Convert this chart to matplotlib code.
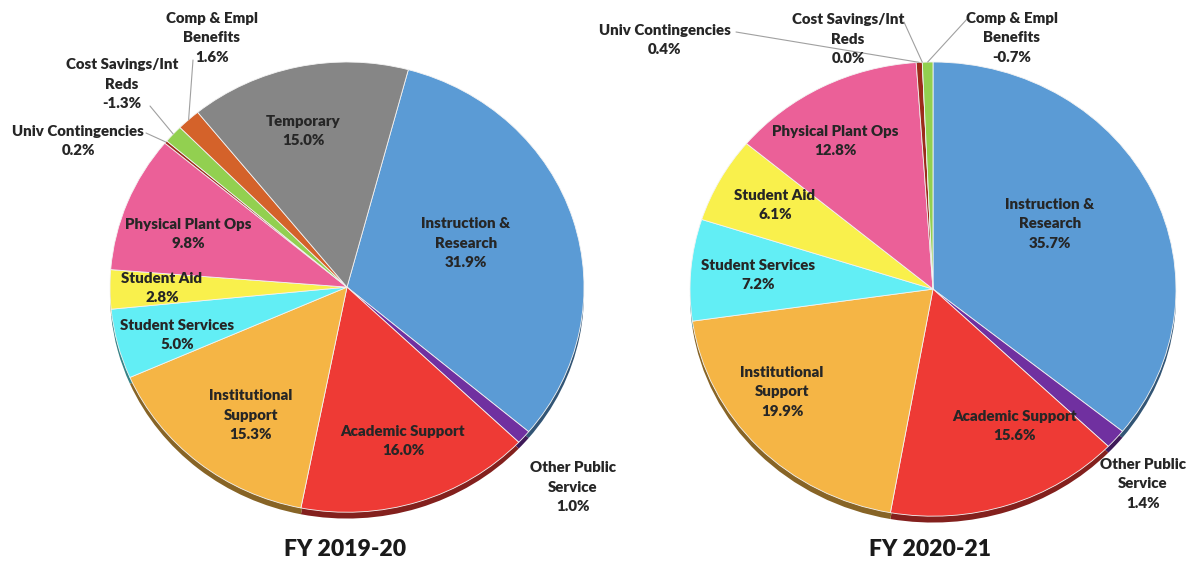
import numpy as np
import matplotlib.pyplot as plt
import matplotlib.colors as mcolors

plt.rcParams['font.family'] = ['Lato', 'DejaVu Sans']

W, H = 1198, 565

labels_19 = ["Instruction &\nResearch", "Other Public\nService", "Academic Support",
             "Institutional\nSupport", "Student Services", "Student Aid",
             "Physical Plant Ops", "Univ Contingencies", "Cost Savings/Int\nReds",
             "Comp & Empl\nBenefits", "Temporary"]
values_19 = [31.9, 1.0, 16.0, 15.3, 5.0, 2.8, 9.8, 0.2, -1.3, 1.6, 15.0]
colors_19 = ["#5b9bd5", "#7030a0", "#ee3a35", "#f5b545", "#62eef5", "#f9f04c",
             "#eb6098", "#9c2b1a", "#92d050", "#d4622a", "#868686"]

labels_20 = ["Instruction &\nResearch", "Other Public\nService", "Academic Support",
             "Institutional\nSupport", "Student Services", "Student Aid",
             "Physical Plant Ops", "Univ Contingencies", "Cost Savings/Int\nReds",
             "Comp & Empl\nBenefits"]
values_20 = [35.7, 1.4, 15.6, 19.9, 7.2, 6.1, 12.8, 0.4, 0.0, -0.7]
colors_20 = ["#5b9bd5", "#7030a0", "#ee3a35", "#f5b545", "#62eef5", "#f9f04c",
             "#eb6098", "#9c2b1a", "#d4622a", "#92d050"]

titles = ["FY 2019-20", "FY 2020-21"]

# label centres in pixels (x, y from top), leader start point or None
pos_19 = [(466, 243), (573, 487), (403, 441), (251, 415), (177, 335), (162, 288),
          (188, 234), (78, 141), (122, 84), (212, 38), (303, 131)]
lead_19 = [None, None, None, None, None, None, None, (146, 133), (150, 106), (193, 60), None]
pos_20 = [(1050, 224), (1143, 484), (1015, 426), (782, 392), (758, 275), (775, 205),
          (835, 141), (665, 40), (848, 39), (1012, 38)]
lead_20 = [None, None, None, None, None, None, None, (736, 32), (904, 22), (968, 18)]

# pie boxes in pixels: left, top, right, bottom
boxes = [(110, 62, 584, 519), (690, 62, 1176, 523)]
starts = [75, 90]
title_pos = [(345, 550), (930, 550)]


def fx(px):
    return px / W


def fy(py):
    return 1 - py / H


fig = plt.figure(figsize=(W / 100, H / 100), dpi=100)

data = [(labels_19, values_19, colors_19, pos_19, lead_19),
        (labels_20, values_20, colors_20, pos_20, lead_20)]

for k, (labels, values, colors, pos, lead) in enumerate(data):
    l, t, r, b = boxes[k]
    ax = fig.add_axes([fx(l), fy(b), (r - l) / W, (b - t) / H])
    sizes = np.abs(values)
    # darker copy underneath gives the 3d rim
    dark = [tuple(np.array(mcolors.to_rgb(c)) * 0.55) for c in colors]
    ax.pie(sizes, colors=dark, startangle=starts[k], counterclock=False,
           center=(0, -0.028), wedgeprops=dict(linewidth=0))
    wedges, _ = ax.pie(sizes, colors=colors, startangle=starts[k], counterclock=False,
                       wedgeprops=dict(edgecolor="#f4f4f4", linewidth=0.6))
    ax.set_xlim(-1, 1)
    ax.set_ylim(-1.03, 1)
    ax.set_aspect('auto')
    ax.axis('off')

    for i, w in enumerate(wedges):
        txt = "%s\n%.1f%%" % (labels[i], values[i])
        fig.text(fx(pos[i][0]), fy(pos[i][1]), txt, ha='center', va='center',
                 fontsize=10.8, fontweight='heavy', color="#262626", linespacing=1.6)
        if lead[i] is not None:
            mid = np.deg2rad((w.theta1 + w.theta2) / 2)
            ax.annotate("", xy=(np.cos(mid), np.sin(mid)), xycoords='data',
                        xytext=(fx(lead[i][0]), fy(lead[i][1])), textcoords='figure fraction',
                        arrowprops=dict(arrowstyle='-', color="#a0a0a0", lw=0.8,
                                        shrinkA=0, shrinkB=0))

    fig.text(fx(title_pos[k][0]), fy(title_pos[k][1]), titles[k], ha='center', va='center',
             fontsize=16.5, fontweight='heavy', color="#1a1a1a")

fig.savefig("out.png", dpi=100, facecolor='white')
